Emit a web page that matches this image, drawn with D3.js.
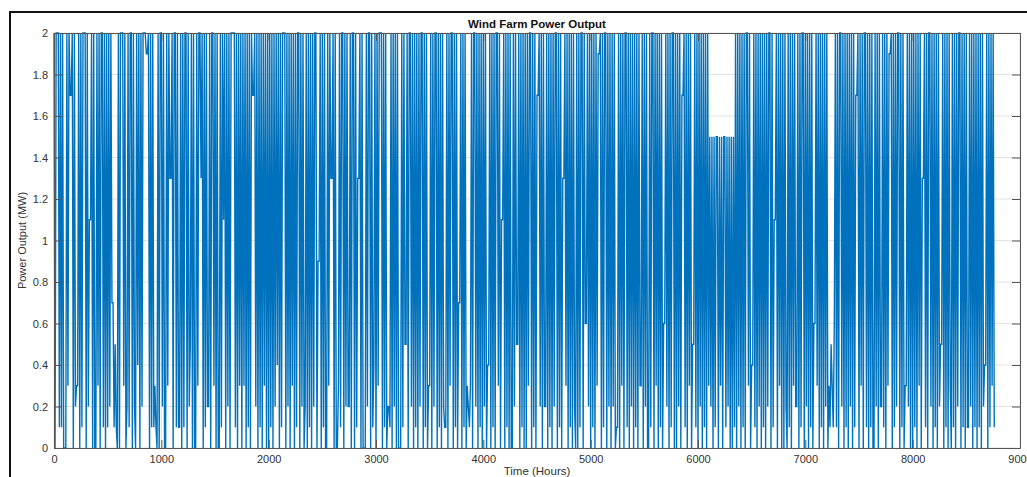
<!DOCTYPE html>
<html>
<head>
<meta charset="utf-8">
<script src="https://cdn.jsdelivr.net/npm/d3@7"></script>
<style>
  body { margin: 0; background: #fff; }
  svg { display: block; font-family: "Liberation Sans", Arial, sans-serif; }
</style>
</head>
<body>
<div id="chart"></div>
<script>
// hourly power, one value every 10 hours (0..8760 h)
var stepHours = 10;
var power = [
  2,0,2,2,2,0.1,2,0.1,2,0,0,0,2,0.3,2,1.7,1.7,2,0,2,
  0.2,0.3,0.3,2,0,2,0.1,2,2,2,0,2,0.2,1.1,1.1,2,0,2,0,0,
  2,0.3,2,0,2,2,0.1,2,0,2,0.1,2,0.2,2,0.7,0.7,0.1,0.5,0.1,0,
  2,0,2,2,2,0.3,2,0,0.2,2,0.1,2,2,0,2,0.2,0,2,0.4,2,
  0,2,0.2,2,2,2,1.9,1.9,2,0,2,0.1,2,0.1,0.3,0.1,0,2,0,2,
  2,0.2,2,0,0,2,0.3,2,1.3,1.3,2,0,2,2,0.1,2,0.1,0.1,2,0,
  2,0.1,2,2,0,2,0.2,0.5,2,0,2,0,0,2,0.3,2,2,1.3,2,0,
  2,0.1,2,0.2,0.2,2,0,2,2,0.3,2,0,2,0,0,2,0.1,2,1.1,2,
  0,2,0.2,2,0,2,2,2,2,0.1,2,0,2,0.3,2,0,2,0.3,2,0,
  2,0.1,2,0,2,1.7,1.7,2,0.2,2,0,2,0.1,2,0,2,0.3,2,0,2,
  0,2,0.1,2,0,2,0.2,2,0.4,2,0,2,0.1,2,2,2,0,2,0.2,2,
  0,2,0.3,2,0,2,0.1,2,2,0,2,0.2,2,0,0.2,2,0,2,0.1,2,
  0,2,0.2,2,2,0,0.9,0.9,2,0,2,0.1,2,0,0,2,0.3,2,1.3,1.3,
  2,0,2,0,0,0.3,2,0.1,2,2,0,2,0.2,2,0.2,0.2,2,0,2,2,
  0,2,0.1,1.3,1.3,2,0,2,0,0,0,2,0.2,2,2,0,2,0.1,0.4,2,
  0,2,0.3,2,2,2,0,2,0.1,2,0,0.2,0.2,0.1,2,0,2,0.2,2,0,
  2,0,0,0,2,0.1,2,0.5,0.5,2,0,2,2,0.2,2,0,2,0.1,2,0,
  2,0.2,2,2,0,2,0.1,2,0,0.3,0.3,2,0,2,0.2,2,2,0,2,0.1,
  2,0,2,0.2,0.1,0.1,2,0,2,0.3,2,2,0,2,0.1,2,0,0.7,0.7,2,
  0,2,0.1,2,0,0.3,0.2,0.1,0.3,2,0,2,2,0.2,2,0,2,0.1,2,0,
  2,0.2,2,0,0.4,0.4,2,0,2,0.1,2,0,2,2,0.3,2,0,1.1,1.1,2,
  0,2,0.1,2,0,2,0,0,2,0.2,2,0.5,0.5,2,0,2,0.1,2,0,2,
  0,2,0.3,2,2,0,2,0.1,2,0,1.7,1.7,2,0.2,2,0,2,0.2,0.2,2,
  0,2,0.1,2,0,2,0.2,2,2,0,2,0.1,2,0,1.3,1.3,2,0.3,2,0,
  2,0.1,2,0,2,0.2,0,2,0,2,0.1,2,2,0,2,0.6,0.6,2,0.2,2,
  0,2,0.1,2,0,2,0.3,1.9,1.9,2,0,2,0.1,2,2,0,2,0.2,2,0,
  2,0.2,2,0,0.1,0.1,2,0,2,0.3,2,0,2,2,0.1,2,0,2,0.2,2,
  0,2,0.1,2,0,2,0.3,0.3,2,0,2,0.2,2,0,0,2,0.1,2,2,0,
  2,0.3,2,0,2,0.1,2,0,0.6,0.6,2,0.2,2,0,2,0.1,2,2,0,2,
  0,2,0.2,2,0,1.7,1.7,2,0.1,2,0,2,0.3,2,0,0.5,0.5,2,0.1,2,
  0,2,0.2,2,0,2,0.1,2,0,2,0.3,1.5,0.2,1.5,0,1.5,0.1,1.5,1.5,0,
  1.5,0.3,1.5,0,1.5,1.5,0.1,1.5,0.2,1.5,0,1.5,0,1.5,0.1,2,0,2,0.2,2,
  0,2,0.1,2,0,2,2,0.3,2,0,0.4,0.4,2,0.1,2,0,2,0.2,2,0,
  2,0.1,2,0,2,0.2,2,2,0,2,0.1,1.1,1.1,2,0,2,0.3,2,0,2,
  0,2,0.2,0,2,0.1,2,0,2,0.3,2,0.2,0.2,2,0,2,0.1,2,2,0,
  2,0.2,2,0,2,0.1,2,0,0.6,0.6,2,0.3,2,0,2,0.1,2,0,2,0.2,
  2,0,0.3,0.1,0.5,0.3,0.1,0.6,2,0.1,2,0,2,2,0.2,2,0,2,0.1,2,
  0,2,0.2,2,0,2,0.1,1.7,1.7,2,0,2,0.3,2,0,2,2,0.1,2,0,
  2,0.1,2,0,0,2,0.2,2,0,2,0.2,0.2,2,0.1,2,0,2,0.3,1.9,1.9,
  2,0,2,0.1,2,0.2,2,2,0,2,0.1,2,0,0.3,0.3,2,0.2,2,0,2,
  0,2,0.1,2,0,2,0.3,2,0,1.3,1.3,2,0.1,2,0,2,2,0.2,2,0,
  2,0.1,2,0,2,0.2,0.5,0.5,2,0,2,0.1,2,0,2,0.3,0,2,0.1,2,
  0,2,0.2,2,2,0,2,0.1,2,0,2,0.1,0.1,2,0.2,2,0,2,0.1,2,
  0,2,0.1,2,0,2,0.2,0.4,0.4,2,0,2,0.1,2,0.3,2,0.1
];
var xTicks = [0, 1000, 2000, 3000, 4000, 5000, 6000, 7000, 8000, 9000];
var yTicks = [0, 0.2, 0.4, 0.6, 0.8, 1, 1.2, 1.4, 1.6, 1.8, 2];

var width = 1027,
    height = 477;
var margin = {left: 54, right: 7, top: 33, bottom: 29};
var x0 = margin.left, x1 = width - margin.right,
    y0 = height - margin.bottom, y1 = margin.top;

var x = d3.scaleLinear().domain([0, 9000]).range([x0, x1]);
var y = d3.scaleLinear().domain([0, 2]).range([y0, y1]);

var svg = d3.select("#chart").append("svg")
    .attr("width", width)
    .attr("height", height);

// frame around the figure
svg.append("rect")
    .attr("x", 10).attr("y", 12)
    .attr("width", 1040).attr("height", 500)
    .attr("fill", "none")
    .attr("stroke", "#111")
    .attr("stroke-width", 2);

// grid
svg.append("g").selectAll("line")
    .data(yTicks)
    .enter().append("line")
    .attr("x1", x0).attr("x2", x1)
    .attr("y1", function(d) { return y(d); })
    .attr("y2", function(d) { return y(d); })
    .attr("stroke", "#e3e3e3");
svg.append("g").selectAll("line")
    .data(xTicks)
    .enter().append("line")
    .attr("x1", function(d) { return x(d); })
    .attr("x2", function(d) { return x(d); })
    .attr("y1", y0).attr("y2", y1)
    .attr("stroke", "#e3e3e3");

var line = d3.line()
    .x(function(d, i) { return x(i * stepHours); })
    .y(function(d) { return y(d); });

svg.append("path")
    .datum(power)
    .attr("d", line)
    .attr("fill", "none")
    .attr("stroke", "#0072BD")
    .attr("stroke-width", 1.4);

// axes, ticks pointing in (matlab style)
svg.append("g")
    .attr("transform", "translate(0," + y0 + ")")
    .call(d3.axisBottom(x).tickValues(xTicks).tickSizeInner(-8).tickSizeOuter(0).tickPadding(7)
      .tickFormat(d3.format("d")));
svg.append("g")
    .attr("transform", "translate(" + x0 + ",0)")
    .call(d3.axisLeft(y).tickValues(yTicks).tickSizeInner(-8).tickSizeOuter(0).tickPadding(6)
      .tickFormat(function(d) { return d3.format("~g")(d); }));
svg.append("g")
    .attr("transform", "translate(0," + y1 + ")")
    .call(d3.axisTop(x).tickValues(xTicks).tickSizeInner(-8).tickSizeOuter(0).tickFormat(""));
svg.append("g")
    .attr("transform", "translate(" + x1 + ",0)")
    .call(d3.axisRight(y).tickValues(yTicks).tickSizeInner(-8).tickSizeOuter(0).tickFormat(""));

svg.selectAll(".domain").attr("stroke", "#555");
svg.selectAll(".tick line").attr("stroke", "#555");
svg.selectAll(".tick text")
    .attr("fill", "#333")
    .style("font-size", "11px");

svg.append("text")
    .attr("x", (x0 + x1) / 2)
    .attr("y", 28)
    .attr("text-anchor", "middle")
    .style("font-weight", "bold")
    .style("font-size", "11.5px")
    .attr("fill", "#111")
    .text("Wind Farm Power Output");

svg.append("text")
    .attr("x", (x0 + x1) / 2)
    .attr("y", 475)
    .attr("text-anchor", "middle")
    .style("font-size", "11.5px")
    .attr("fill", "#333")
    .text("Time (Hours)");

svg.append("text")
    .attr("transform", "translate(26," + ((y0 + y1) / 2) + ") rotate(-90)")
    .attr("text-anchor", "middle")
    .style("font-size", "11px")
    .attr("fill", "#333")
    .text("Power Output (MW)");
</script>
</body>
</html>
